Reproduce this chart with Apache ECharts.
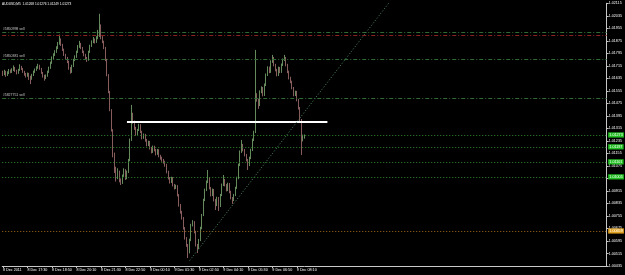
<!DOCTYPE html>
<html><head><meta charset="utf-8">
<script src="https://cdn.jsdelivr.net/npm/echarts@6/dist/echarts.min.js"></script>
<style>html,body{margin:0;padding:0;background:#000;}#c{width:625px;height:275px;}</style>
</head><body><div id="c"></div><script>
// ---- data (AUDUSD M5, 8-9 Dec 2011) ----
const symbolTitle = "AUDUSD,M5  1.01268 1.01276 1.01249 1.01273";
const firstLabel = "8 Dec 2011";
const xTickLabels = ["8 Dec 17:30","8 Dec 18:50","8 Dec 20:10","8 Dec 21:30","8 Dec 22:50","9 Dec 00:10","9 Dec 01:30","9 Dec 02:50","9 Dec 04:10","9 Dec 05:30","9 Dec 06:50","9 Dec 08:10"];
const yTicks = [1.00435,1.00515,1.00595,1.00675,1.00755,1.00835,1.00915,1.00995,1.01075,1.01155,1.01235,1.01315,1.01395,1.01475,1.01555,1.01635,1.01715,1.01795,1.01875,1.01955,1.02035,1.02115];
const totalSlots = 395; // bars incl. empty chart shift on the right
const opens = [1.01670,1.01664,1.01677,1.01657,1.01670,1.01683,1.01677,1.01689,1.01702,1.01683,1.01670,1.01689,1.01709,1.01696,1.01677,1.01664,1.01651,1.01664,1.01645,1.01632,
1.01657,1.01677,1.01689,1.01702,1.01715,1.01696,1.01670,1.01651,1.01638,1.01651,1.01677,1.01702,1.01734,1.01766,1.01785,1.01805,1.01830,1.01856,1.01881,1.01849,
1.01817,1.01785,1.01766,1.01741,1.01702,1.01677,1.01715,1.01753,1.01773,1.01805,1.01837,1.01856,1.01830,1.01805,1.01785,1.01766,1.01753,1.01805,1.01843,1.01869,
1.01881,1.01869,1.01894,1.01907,1.01945,1.01894,1.01869,1.01830,1.01753,1.01657,1.01549,1.01433,1.01305,1.01145,1.01049,1.00998,1.01037,1.00985,1.00966,1.01011,
1.01049,1.00998,1.01037,1.01113,1.01241,1.01402,1.01357,1.01318,1.01279,1.01305,1.01337,1.01292,1.01254,1.01273,1.01241,1.01209,1.01229,1.01190,1.01165,1.01197,
1.01177,1.01152,1.01177,1.01139,1.01126,1.01113,1.01101,1.01081,1.01037,1.00998,1.00973,1.00998,1.00953,1.00934,1.00947,1.00889,1.00825,1.00781,1.00742,1.00678,
1.00614,1.00569,1.00524,1.00601,1.00697,1.00716,1.00653,1.00569,1.00550,1.00601,1.00678,1.00761,1.00857,1.00921,1.00973,1.00998,1.00934,1.00889,1.00921,1.00857,
1.00825,1.00870,1.00819,1.00889,1.00953,1.00985,1.00953,1.00921,1.00960,1.00909,1.00870,1.00857,1.00889,1.00934,1.00998,1.01081,1.01165,1.01209,1.01177,1.01145,
1.01113,1.01081,1.01126,1.01177,1.01241,1.01292,1.01529,1.01497,1.01465,1.01549,1.01574,1.01529,1.01593,1.01657,1.01702,1.01677,1.01741,1.01766,1.01721,1.01689,
1.01657,1.01702,1.01677,1.01721,1.01753,1.01766,1.01721,1.01677,1.01638,1.01613,1.01574,1.01529,1.01549,1.01497,1.01446,1.01369,1.01241,1.01268];
const closes = [1.01664,1.01677,1.01657,1.01670,1.01683,1.01677,1.01689,1.01702,1.01683,1.01670,1.01689,1.01709,1.01696,1.01677,1.01664,1.01651,1.01664,1.01645,1.01632,1.01657,
1.01677,1.01689,1.01702,1.01715,1.01696,1.01670,1.01651,1.01638,1.01651,1.01677,1.01702,1.01734,1.01766,1.01785,1.01805,1.01830,1.01856,1.01881,1.01849,1.01817,
1.01785,1.01766,1.01741,1.01702,1.01677,1.01715,1.01753,1.01773,1.01805,1.01837,1.01856,1.01830,1.01805,1.01785,1.01766,1.01753,1.01805,1.01843,1.01869,1.01881,
1.01869,1.01894,1.01907,1.01945,1.01894,1.01869,1.01830,1.01753,1.01657,1.01549,1.01433,1.01305,1.01145,1.01049,1.00998,1.01037,1.00985,1.00966,1.01011,1.01049,
1.00998,1.01037,1.01113,1.01241,1.01402,1.01357,1.01318,1.01279,1.01305,1.01337,1.01292,1.01254,1.01273,1.01241,1.01209,1.01229,1.01190,1.01165,1.01197,1.01177,
1.01152,1.01177,1.01139,1.01126,1.01113,1.01101,1.01081,1.01037,1.00998,1.00973,1.00998,1.00953,1.00934,1.00947,1.00889,1.00825,1.00781,1.00742,1.00678,1.00614,
1.00569,1.00524,1.00601,1.00697,1.00716,1.00653,1.00569,1.00550,1.00601,1.00678,1.00761,1.00857,1.00921,1.00973,1.00998,1.00934,1.00889,1.00921,1.00857,1.00825,
1.00870,1.00819,1.00889,1.00953,1.00985,1.00953,1.00921,1.00960,1.00909,1.00870,1.00857,1.00889,1.00934,1.00998,1.01081,1.01165,1.01209,1.01177,1.01145,1.01113,
1.01081,1.01126,1.01177,1.01241,1.01292,1.01529,1.01497,1.01465,1.01549,1.01574,1.01529,1.01593,1.01657,1.01702,1.01677,1.01741,1.01766,1.01721,1.01689,1.01657,
1.01702,1.01677,1.01721,1.01753,1.01766,1.01721,1.01677,1.01638,1.01613,1.01574,1.01529,1.01549,1.01497,1.01446,1.01369,1.01241,1.01267,1.01273];
const lows = [1.01650,1.01655,1.01645,1.01650,1.01662,1.01668,1.01670,1.01682,1.01676,1.01660,1.01664,1.01683,1.01688,1.01670,1.01652,1.01640,1.01645,1.01625,1.01598,1.01626,
1.01650,1.01670,1.01683,1.01696,1.01690,1.01664,1.01640,1.01620,1.01630,1.01645,1.01670,1.01696,1.01728,1.01755,1.01778,1.01798,1.01822,1.01850,1.01842,1.01810,
1.01778,1.01755,1.01732,1.01690,1.01665,1.01670,1.01708,1.01745,1.01766,1.01798,1.01830,1.01822,1.01796,1.01776,1.01755,1.01740,1.01748,1.01798,1.01836,1.01860,
1.01858,1.01862,1.01885,1.01900,1.01885,1.01860,1.01822,1.01745,1.01648,1.01540,1.01425,1.01295,1.01130,1.01030,1.00975,1.00990,1.00970,1.00953,1.00960,1.01005,
1.00985,1.00990,1.01030,1.01105,1.01235,1.01345,1.01305,1.01268,1.01272,1.01298,1.01285,1.01245,1.01248,1.01230,1.01200,1.01202,1.01180,1.01155,1.01158,1.01168,
1.01142,1.01146,1.01130,1.01115,1.01102,1.01090,1.01070,1.01028,1.00988,1.00962,1.00966,1.00944,1.00924,1.00928,1.00880,1.00815,1.00770,1.00732,1.00668,1.00604,
1.00558,1.00486,1.00516,1.00594,1.00688,1.00644,1.00560,1.00518,1.00542,1.00594,1.00670,1.00754,1.00850,1.00914,1.00965,1.00925,1.00880,1.00882,1.00848,1.00793,
1.00818,1.00787,1.00812,1.00882,1.00946,1.00944,1.00912,1.00914,1.00900,1.00861,1.00832,1.00850,1.00882,1.00928,1.00990,1.01074,1.01158,1.01168,1.01136,1.01104,
1.01049,1.01074,1.01118,1.01170,1.01234,1.01285,1.01486,1.01440,1.01458,1.01540,1.01520,1.01522,1.01586,1.01650,1.01668,1.01670,1.01734,1.01712,1.01680,1.01648,
1.01650,1.01668,1.01670,1.01714,1.01746,1.01712,1.01668,1.01628,1.01604,1.01565,1.01520,1.01522,1.01488,1.01436,1.01360,1.01145,1.01232,1.01249];
const highs = [1.01684,1.01690,1.01683,1.01680,1.01695,1.01692,1.01700,1.01718,1.01708,1.01690,1.01696,1.01725,1.01715,1.01702,1.01683,1.01670,1.01672,1.01670,1.01652,1.01664,
1.01685,1.01698,1.01712,1.01728,1.01722,1.01702,1.01676,1.01658,1.01660,1.01684,1.01710,1.01742,1.01775,1.01795,1.01815,1.01840,1.01868,1.01915,1.01890,1.01856,
1.01825,1.01792,1.01772,1.01748,1.01708,1.01722,1.01760,1.01782,1.01812,1.01848,1.01875,1.01862,1.01836,1.01812,1.01792,1.01772,1.01812,1.01850,1.01878,1.01900,
1.01890,1.01905,1.01945,1.02048,1.01980,1.01905,1.01876,1.01836,1.01760,1.01662,1.01555,1.01438,1.01310,1.01160,1.01070,1.01060,1.01045,1.00995,1.01020,1.01060,
1.01055,1.01045,1.01120,1.01250,1.01465,1.01415,1.01365,1.01325,1.01312,1.01345,1.01342,1.01300,1.01282,1.01280,1.01248,1.01236,1.01235,1.01197,1.01205,1.01204,
1.01184,1.01184,1.01182,1.01146,1.01134,1.01120,1.01108,1.01088,1.01044,1.01004,1.01006,1.01004,1.00960,1.00955,1.00952,1.00895,1.00832,1.00788,1.00748,1.00684,
1.00620,1.00576,1.00610,1.00705,1.00728,1.00722,1.00660,1.00576,1.00608,1.00686,1.00768,1.00865,1.00930,1.00982,1.01049,1.01004,1.00940,1.00930,1.00928,1.00864,
1.00878,1.00876,1.00896,1.00962,1.01017,1.00992,1.00960,1.00968,1.00966,1.00916,1.00876,1.00896,1.00942,1.01006,1.01090,1.01174,1.01241,1.01216,1.01184,1.01152,
1.01120,1.01134,1.01185,1.01250,1.01300,1.01817,1.01540,1.01505,1.01558,1.01584,1.01580,1.01602,1.01666,1.01712,1.01710,1.01750,1.01785,1.01772,1.01728,1.01696,
1.01710,1.01708,1.01730,1.01762,1.01785,1.01772,1.01728,1.01684,1.01645,1.01620,1.01580,1.01556,1.01555,1.01504,1.01452,1.01375,1.01275,1.01276];
// order / object lines
const sellLevels = [1.01933, 1.01760, 1.01510];
const sellLabels = ["#5850998 sell", "#5850381 sell", "#5827751 sell"];
const stopLevel = 1.01913;
const greenLevels = [1.01273, 1.01197, 1.01101, 1.01005];
const orangeLevel = 1.00659;
const whiteLine = [[81, 1.01357], [212, 1.01357]];
const trendLine = [[122, 1.00470], [252, 1.02115]];

// ---- build ----
const months = "Dec";
const categories = [];
for (let k = 0; k < totalSlots; k++) {
  const mins = 16 * 60 + 10 + 5 * k;
  const day = 8 + Math.floor(mins / 1440);
  const m = mins % 1440;
  const hh = String(Math.floor(m / 60)).padStart(2, '0');
  const mm = String(m % 60).padStart(2, '0');
  categories.push(day + ' ' + months + ' ' + hh + ':' + mm);
}
const ohlc = opens.map((o, i) => [o, closes[i], lows[i], highs[i]]);
const showTick = (idx, val) => idx === 0 || xTickLabels.indexOf(val) >= 0;
const FONT = 'Liberation Sans';
const FS = 3.7;

const markData = [];
sellLevels.forEach((v, i) => markData.push({
  yAxis: v,
  lineStyle: { color: '#2f6a35', type: [4, 2, 1, 2], width: 1 },
  label: { show: true, position: 'insideStartTop', formatter: sellLabels[i], color: '#c8c8c8', fontSize: 3.5, fontFamily: FONT, distance: 0.5 }
}));
markData.push({ yAxis: stopLevel, lineStyle: { color: '#8a2222', type: [4, 2, 1, 2], width: 1 }, label: { show: false } });
greenLevels.forEach(v => markData.push({
  yAxis: v,
  lineStyle: { color: '#2e8a2e', type: [1, 2], width: 1 },
  label: { show: true, position: 'end', distance: 1.5, formatter: v.toFixed(5), color: '#ffffff', backgroundColor: '#22c022', fontSize: FS, fontFamily: FONT, padding: [0.6, 1.2] }
}));
markData.push({
  yAxis: orangeLevel,
  lineStyle: { color: '#a06a18', type: [1, 2], width: 1 },
  label: { show: true, position: 'end', distance: 1.5, formatter: orangeLevel.toFixed(5), color: '#ffffff', backgroundColor: '#e0a020', fontSize: FS, fontFamily: FONT, padding: [0.6, 1.2] }
});
markData.push([
  { coord: whiteLine[0], lineStyle: { color: '#ffffff', width: 2, type: 'solid' }, label: { show: false } },
  { coord: whiteLine[1] }
]);
markData.push([
  { coord: trendLine[0], lineStyle: { color: '#4f8a66', width: 1, type: [1, 2] }, label: { show: false } },
  { coord: trendLine[1] }
]);

const chart = echarts.init(document.getElementById('c'), null, { renderer: 'canvas' });
chart.setOption({
  backgroundColor: '#000000',
  animation: false,
  textStyle: { fontFamily: FONT },
  grid: { left: 2, right: 18, top: 3.3, bottom: 9, containLabel: false },
  graphic: [
    { type: 'text', left: 2, top: 3, style: { text: symbolTitle, fill: '#ffffff', font: '3.2px ' + FONT } }
  ],
  xAxis: {
    type: 'category', data: categories, boundaryGap: true,
    axisLine: { show: true, lineStyle: { color: '#c8c8c8', width: 1 } },
    axisTick: { show: true, interval: showTick, alignWithLabel: true, length: 2, lineStyle: { color: '#c8c8c8' } },
    axisLabel: {
      interval: showTick, color: '#ffffff', fontSize: FS, fontFamily: FONT, align: 'left', margin: 2,
      formatter: (val, idx) => idx === 0 ? firstLabel : val
    },
    splitLine: { show: false }
  },
  yAxis: {
    type: 'value', position: 'right', min: yTicks[0], max: yTicks[yTicks.length - 1], scale: true,
    axisLine: { show: true, lineStyle: { color: '#c8c8c8', width: 1 } },
    axisTick: { show: true, length: 2, customValues: yTicks, lineStyle: { color: '#c8c8c8' } },
    axisLabel: { customValues: yTicks, color: '#ffffff', fontSize: FS, fontFamily: FONT, margin: 2, formatter: v => v.toFixed(5) },
    splitLine: { show: false }
  },
  series: [{
    type: 'candlestick',
    data: ohlc,
    barWidth: 1,
    itemStyle: { color: '#c4f2b4', color0: '#f0b4b4', borderColor: '#a8e898', borderColor0: '#e09a9a', borderWidth: 0.6 },
    markLine: { silent: true, precision: 5, symbol: ['none', 'none'], animation: false, data: markData }
  }]
});
</script></body></html>
